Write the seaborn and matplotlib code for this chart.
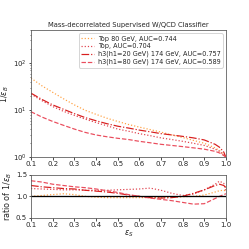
import numpy as np
import pandas as pd
import matplotlib
matplotlib.use("Agg")
import matplotlib.pyplot as plt
import seaborn as sns

# signal efficiency grid
eps_s = [0.10, 0.15, 0.20, 0.25, 0.30, 0.35, 0.40, 0.45, 0.50, 0.55,
         0.60, 0.65, 0.70, 0.75, 0.80, 0.85, 0.90, 0.95, 0.97, 0.99, 1.00]

labels = ["Top 80 GeV, AUC=0.744", "Top, AUC=0.704",
          "h3(h1=20 GeV) 174 GeV, AUC=0.757", "h3(h1=80 GeV) 174 GeV, AUC=0.589"]

# 1/eps_B
inv_top80 = [48, 33, 24, 17.5, 13, 10, 8.2, 6.8, 5.8, 5.0,
             4.4, 3.9, 3.45, 3.0, 2.65, 2.3, 2.0, 1.6, 1.4, 1.15, 1.0]
inv_top = [22, 16, 12, 9.5, 7.8, 6.5, 5.5, 4.7, 4.0, 3.6,
           3.2, 2.9, 2.6, 2.4, 2.2, 2.0, 1.8, 1.5, 1.35, 1.15, 1.0]
inv_h20 = [23, 17, 13, 10.5, 8.5, 7.0, 6.0, 5.2, 4.6, 4.2,
           3.8, 3.5, 3.2, 3.0, 2.8, 2.6, 2.35, 1.9, 1.65, 1.3, 1.0]
inv_h80 = [9.3, 7.2, 5.8, 4.8, 4.0, 3.4, 3.0, 2.75, 2.55, 2.4,
           2.2, 2.05, 1.9, 1.8, 1.7, 1.6, 1.5, 1.35, 1.25, 1.1, 1.0]

# ratio panel
ratio_top80 = [1.00, 1.02, 1.04, 1.06, 1.04, 1.00, 0.98, 0.97, 0.97, 0.97,
               0.97, 0.97, 0.97, 0.98, 0.99, 1.00, 1.03, 1.10, 1.13, 1.14, 1.12]
ratio_top = [1.18, 1.17, 1.16, 1.15, 1.15, 1.14, 1.14, 1.14, 1.15, 1.16,
             1.17, 1.19, 1.14, 1.07, 1.02, 1.05, 1.15, 1.28, 1.35, 1.30, 1.10]
ratio_h20 = [1.25, 1.22, 1.20, 1.18, 1.17, 1.14, 1.12, 1.10, 1.07, 1.03,
             1.00, 0.97, 0.96, 0.97, 1.00, 1.07, 1.15, 1.25, 1.28, 1.25, 1.20]
ratio_h80 = [1.36, 1.33, 1.28, 1.25, 1.22, 1.20, 1.17, 1.13, 1.09, 1.04,
             1.00, 0.96, 0.93, 0.90, 0.86, 0.82, 0.83, 0.95, 1.00, 1.04, 1.06]

colors = ["#ffa040", "#e0404c", "#d81e1e", "#ea4c5c"]
styles = [":", ":", "-.", "--"]

sns.set_style("ticks")
plt.rcParams["axes.edgecolor"] = "0.35"
plt.rcParams["font.family"] = ["DejaVu Sans"]

fig = plt.figure(figsize=(249 / 72, 249 / 72), dpi=72)
ax = fig.add_axes([0.1245, 0.3675, 0.783, 0.512])
axr = fig.add_axes([0.1245, 0.1245, 0.783, 0.174])

inv_all = [inv_top80, inv_top, inv_h20, inv_h80]
ratio_all = [ratio_top80, ratio_top, ratio_h20, ratio_h80]

for lab, inv, rat, c, ls in zip(labels, inv_all, ratio_all, colors, styles):
    df = pd.DataFrame({"eps_s": eps_s, "inv": inv, "ratio": rat})
    sns.lineplot(data=df, x="eps_s", y="inv", ax=ax, color=c, linestyle=ls,
                 linewidth=1.2, label=lab)
    sns.lineplot(data=df, x="eps_s", y="ratio", ax=axr, color=c, linestyle=ls,
                 linewidth=1.2)

ticks = np.arange(0.1, 1.01, 0.1)
ax.set_yscale("log")
ax.set_xlim(0.1, 1.0)
ax.set_ylim(1, 500)
ax.set_xticks(ticks)
ax.set_xticklabels([f"{t:.1f}" for t in ticks])
ax.set_xlabel("")
ax.set_ylabel(r"1/$\epsilon_B$", fontsize=8, labelpad=2)
ax.set_title("Mass-decorrelated Supervised W/QCD Classifier", fontsize=6.8, pad=3)
ax.tick_params(labelsize=7, length=2.5, pad=1.5)
ax.tick_params(which="minor", length=1.5)
ax.legend(loc="upper right", fontsize=6.5, frameon=True, handlelength=2.0,
          borderpad=0.35, labelspacing=0.25, handletextpad=0.6)

axr.axhline(1.0, color="black", linewidth=1.3)
axr.set_xlim(0.1, 1.0)
axr.set_ylim(0.5, 1.5)
axr.set_xticks(ticks)
axr.set_xticklabels([f"{t:.1f}" for t in ticks])
axr.set_yticks([0.5, 1.0, 1.5])
axr.set_xlabel(r"$\epsilon_S$", fontsize=8, labelpad=1)
axr.set_ylabel(r"ratio of 1/$\epsilon_B$", fontsize=8, labelpad=2)
axr.tick_params(labelsize=7, length=2.5, pad=1.5)

fig.savefig("out.png", dpi=72)
